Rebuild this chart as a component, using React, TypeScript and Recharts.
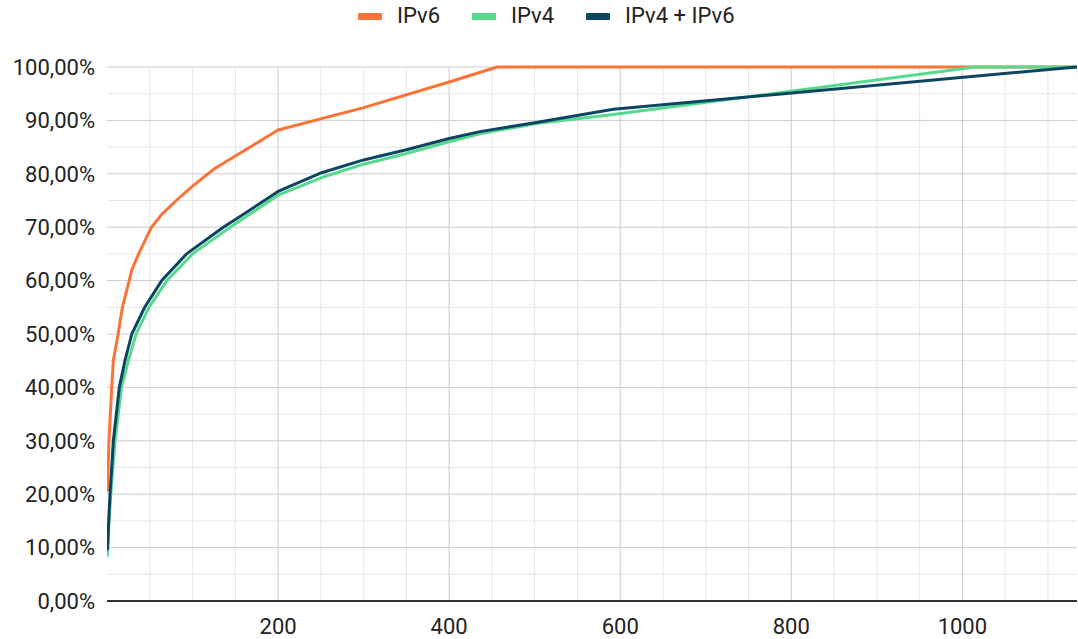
import React from "react"
import {
    LineChart,
    Line,
    XAxis,
    YAxis,
    CartesianGrid,
    Legend,
} from "recharts"

// [value, share %] points
const ipv6Points: [number, number][] = [
    [0.5, 20.5], [2.3, 30], [5.5, 40], [7.4, 45], [13, 50], [18, 55], [26, 60], [29, 62],
    [37, 65], [52, 70], [64, 72.4], [81, 75], [100, 77.7], [126, 81], [200, 88.2],
    [300, 92.4], [400, 97.2], [456, 100], [1134, 100],
]

const ipv4Points: [number, number][] = [
    [0.5, 8.3], [2, 14], [4.5, 20], [9.4, 30], [17, 40], [25, 45], [34, 50], [49, 55],
    [70, 60], [100, 65], [144, 70], [172, 73], [200, 76], [251, 79.3], [300, 81.8],
    [350, 83.8], [400, 86], [436, 87.5], [502, 89.4], [592, 91.1], [1015, 100], [1134, 100],
]

const bothPoints: [number, number][] = [
    [0.5, 9.5], [2, 15], [3.5, 20], [7.4, 30], [14.4, 40], [21, 45], [29, 50], [44, 55],
    [64, 60], [93, 65], [136, 70], [165, 73], [200, 76.7], [251, 80.2], [300, 82.6],
    [350, 84.5], [400, 86.6], [436, 87.9], [502, 89.6], [592, 92.1], [1134, 100],
]

const xTicks = [200, 400, 600, 800, 1000]
const yTicks = [0, 10, 20, 30, 40, 50, 60, 70, 80, 90, 100]
const xMinor = [50, 100, 150, 250, 300, 350, 450, 500, 550, 650, 700, 750, 850, 900, 950, 1050, 1100]
const yMinor = [5, 15, 25, 35, 45, 55, 65, 75, 85, 95]

const SERIES = [
    { name: "IPv6", color: "#fb7336", points: ipv6Points },
    { name: "IPv4", color: "#55d98c", points: ipv4Points },
    { name: "IPv4 + IPv6", color: "#0b4561", points: bothPoints },
]

const FONT = "Roboto, 'Noto Sans', sans-serif"

const toRows = (pts: [number, number][]) => pts.map(([x, y]) => ({ x, y }))

function LegendContent() {
    return (
        <div style={{ display: "flex", alignItems: "center", fontFamily: FONT, fontSize: 22, color: "#222" }}>
            {SERIES.map((s, i) => (
                <div key={s.name} style={{ display: "flex", alignItems: "center", marginLeft: i === 0 ? 0 : 32 }}>
                    <span style={{ display: "inline-block", width: 24, height: 7, background: s.color, borderRadius: 1 }} />
                    <span style={{ marginLeft: 15, lineHeight: "24px" }}>{s.name}</span>
                </div>
            ))}
        </div>
    )
}

export default function App() {
    return (
        <div style={{ position: "absolute", left: 0, top: 0, width: 1078, height: 639, background: "#fff" }}>
            <LineChart width={1078} height={639} margin={{ top: 67, right: 1, bottom: 0, left: 0 }}>
                <CartesianGrid
                    stroke="#e6e6e6"
                    horizontalValues={yMinor}
                    verticalValues={xMinor}
                />
                <CartesianGrid
                    stroke="#cccccc"
                    horizontalValues={yTicks}
                    verticalValues={xTicks}
                />
                <XAxis
                    dataKey="x"
                    type="number"
                    domain={[0, 1134]}
                    ticks={xTicks}
                    allowDataOverflow
                    height={38}
                    tickLine={false}
                    tickMargin={11}
                    axisLine={{ stroke: "#333", strokeWidth: 2 }}
                    tick={{ fill: "#222", fontSize: 22, fontFamily: FONT }}
                />
                <YAxis
                    type="number"
                    domain={[0, 100]}
                    ticks={yTicks}
                    width={107}
                    axisLine={false}
                    tickLine={false}
                    tickMargin={6}
                    tick={{ fill: "#222", fontSize: 22, fontFamily: FONT }}
                    tickFormatter={(v: number) => v.toFixed(2).replace(".", ",") + "%"}
                />
                <Legend
                    layout="horizontal"
                    verticalAlign="middle"
                    align="center"
                    content={<LegendContent />}
                    wrapperStyle={{ top: 4, left: 358, width: "auto" }}
                />
                {SERIES.map((s) => (
                    <Line
                        key={s.name}
                        name={s.name}
                        data={toRows(s.points)}
                        dataKey="y"
                        type="linear"
                        stroke={s.color}
                        strokeWidth={3}
                        strokeLinejoin="round"
                        dot={false}
                        activeDot={false}
                        isAnimationActive={false}
                    />
                ))}
            </LineChart>
        </div>
    )
}
